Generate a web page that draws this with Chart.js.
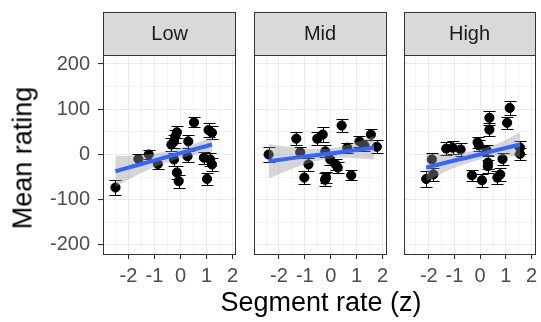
<!DOCTYPE html>
<html>
<head>
<meta charset="utf-8">
<script src="https://cdn.jsdelivr.net/npm/chart.js@4.4.0/dist/chart.umd.min.js"></script>
<style>
  body { margin: 0; background: #fff; font-family: "Liberation Sans", Arial, sans-serif; }
  #wrap { position: relative; width: 541px; height: 322px; overflow: hidden; }
  #wrap canvas { position: absolute; top: 0; }
  .ytitle { position: absolute; left: 23px; top: 158px; transform: translate(-50%, -50%) rotate(-90deg);
            font-size: 27px; white-space: nowrap; color: #000; }
  .xtitle { position: absolute; left: 321px; top: 302px; transform: translate(-50%, -50%);
            font-size: 27px; white-space: nowrap; color: #000; }
</style>
</head>
<body>
<div id="wrap">
  <canvas id="p-low"></canvas>
  <canvas id="p-mid"></canvas>
  <canvas id="p-high"></canvas>
  <div class="ytitle">Mean rating</div>
  <div class="xtitle">Segment rate (z)</div>
</div>
<script>
// ── Données ──────────────────────────────────────────────────────────────────
const xTicks = [-2, -1, 0, 1, 2];
const xMinor = [-2.5, -1.5, -0.5, 0.5, 1.5];
const yTicks = [-200, -100, 0, 100, 200];
const yMinor = [-150, -50, 50, 150];

const lowX   = [-2.5, -1.62, -1.22, -0.87, -0.35, -0.25, -0.2, -0.14, -0.25, -0.14, -0.07, 0.27, 0.3, 0.52, 0.9, 1.08, 1.14, 1.21, 1.21, 1.02];
const lowY   = [-73, -10, 0, -21, 22, 29, 40, 49, -11, -40, -59, -4, 29, 71, -7, 54, -11, 48, -22, -54];
const lowErr = [17, 12, 10, 12, 14, 14, 15, 13, 14, 14, 14, 12, 14, 11, 13, 15, 14, 14, 14, 14];
const lowFitX    = [-2.5, -1.5, -0.5, 0.5, 1.21];
const lowFitY    = [-37, -21, -5, 11, 22];
const lowBandLo  = [-71, -41, -17, -1, 6];
const lowBandHi  = [-3, -1, 7, 23, 38];

const midX   = [-2.4, -1.33, -1.18, -0.86, -1.02, -0.52, -0.31, -0.21, -0.18, -0.22, -0.02, 0.19, 0.27, 0.42, 0.64, 0.79, 1.11, 1.3, 1.55, 1.78];
const midY   = [0, 35, 5, -22, -51, 35, 44, 7, -51, -56, -11, -22, -29, 64, 15, -46, 29, 20, 44, 17];
const midErr = [16, 14, 12, 14, 15, 14, 16, 13, 13, 14, 13, 12, 13, 15, 11, 11, 12, 12, 12, 14];
const midFitX   = [-2.4, -1.5, -0.5, 0.5, 1.67];
const midFitY   = [-15, -8, -1, 6, 15];
const midBandLo = [-53, -32, -14, -7, -11];
const midBandHi = [23, 16, 12, 19, 41];

const highX   = [-2.1, -1.88, -1.82, -1.32, -1.07, -0.76, -0.32, -0.1, 0.07, 0.36, 0.36, 0.3, 0.3, 0.67, 0.78, 0.87, 1.05, 1.15, 1.55, 1.55, -0.05, 0.25];
const highY   = [-54, -11, -44, 13, 15, 11, -46, 27, -57, 81, 55, -18, -26, -51, -44, -10, 70, 103, 15, 1, 20, 10];
const highErr = [18, 14, 14, 14, 14, 14, 12, 12, 14, 16, 14, 14, 14, 14, 14, 13, 14, 16, 14, 14, 12, 12];
const highFitX   = [-2.1, -1.2, -0.3, 0.6, 1.55];
const highFitY   = [-29, -16, -4, 9, 22];
const highBandLo = [-59, -34, -16, -4, -5];
const highBandHi = [1, 2, 8, 22, 49];

// ── Construction d'un panneau ───────────────────────────────────────────────

const TXT = "#4D4D4D";
const FONT = "'Liberation Sans', Arial, sans-serif";

function pts(xs, ys) { return xs.map((x, i) => ({ x, y: ys[i] })); }

function makePanel(id, p) {
  const cv = document.getElementById(id);
  cv.width = p.width; cv.height = 322;
  cv.style.left = p.left + "px";
  cv.style.width = p.width + "px"; cv.style.height = "322px";

  const facet = {
    id: "facet",
    beforeDatasetsDraw(chart) {
      const { ctx, scales: { x, y } } = chart;
      ctx.save();
      ctx.strokeStyle = "#000";
      ctx.lineWidth = 1;
      p.xs.forEach((v, i) => {
        const px = Math.round(x.getPixelForValue(v)) + 0.5;
        const top = Math.round(y.getPixelForValue(p.ys[i] + p.errs[i])) + 0.5;
        const bot = Math.round(y.getPixelForValue(p.ys[i] - p.errs[i])) + 0.5;
        ctx.beginPath();
        ctx.moveTo(px, top); ctx.lineTo(px, bot);
        ctx.moveTo(px - 6, top); ctx.lineTo(px + 6, top);
        ctx.moveTo(px - 6, bot); ctx.lineTo(px + 6, bot);
        ctx.stroke();
      });
      ctx.restore();
    },
    afterDraw(chart) {
      const { ctx, chartArea: a } = chart;
      ctx.save();
      ctx.strokeStyle = "#333333";
      ctx.lineWidth = 1;
      ctx.strokeRect(Math.round(a.left) + 0.5, Math.round(a.top) + 0.5,
                     Math.round(a.right - a.left) - 1, Math.round(a.bottom - a.top));
      // bandeau du facet
      const sTop = 12;
      ctx.fillStyle = "#D9D9D9";
      ctx.fillRect(Math.round(a.left) + 0.5, sTop + 0.5, Math.round(a.right - a.left) - 1, Math.round(a.top) - sTop);
      ctx.strokeRect(Math.round(a.left) + 0.5, sTop + 0.5, Math.round(a.right - a.left) - 1, Math.round(a.top) - sTop);
      ctx.fillStyle = "#1A1A1A";
      ctx.font = "20px " + FONT;
      ctx.textAlign = "center";
      ctx.textBaseline = "middle";
      ctx.fillText(p.label, (a.left + a.right) / 2, (sTop + a.top) / 2 + 1);
      ctx.restore();
    },
  };

  const gridOf = (majors) => ({
    color: "#EBEBEB",
    lineWidth: c => (c.tick && majors.includes(c.tick.value)) ? 1.1 : 0.55,
    tickColor: c => (c.tick && majors.includes(c.tick.value)) ? "#333333" : "rgba(0,0,0,0)",
    tickLength: 5,
  });

  return new Chart(cv.getContext("2d"), {
    type: "scatter",
    data: {
      datasets: [
        {
          type: "line", data: pts(p.fitX, p.fitY),
          borderColor: "#3366FF", borderWidth: 4, pointRadius: 0, fill: false,
          cubicInterpolationMode: "monotone",
        },
        {
          type: "line", data: pts(p.fitX, p.bandHi),
          borderWidth: 0, pointRadius: 0, tension: 0.4,
          fill: "+1", backgroundColor: "rgba(153,153,153,0.4)",
        },
        {
          type: "line", data: pts(p.fitX, p.bandLo),
          borderWidth: 0, pointRadius: 0, tension: 0.4, fill: false,
        },
        {
          data: pts(p.xs, p.ys),
          backgroundColor: "#000", borderColor: "#000", pointRadius: 4.6, pointHoverRadius: 4.6,
        },
      ],
    },
    options: {
      responsive: false,
      animation: false,
      events: [],
      layout: { padding: { left: 0, right: p.padRight, top: 55, bottom: 0 } },
      plugins: { legend: { display: false }, tooltip: { enabled: false } },
      scales: {
        x: {
          type: "linear", min: -2.98, max: 2.15,
          afterBuildTicks: s => { s.ticks = [...xTicks, ...xMinor].sort((a, b) => a - b).map(v => ({ value: v })); },
          afterFit: s => { s.height = 68; s.paddingLeft = 0; s.paddingRight = 0; },
          grid: gridOf(xTicks),
          border: { display: false },
          ticks: {
            autoSkip: false, maxRotation: 0, padding: 5, color: TXT,
            font: { family: FONT, size: 20 },
            callback: v => xTicks.includes(v) ? String(v) : "",
          },
        },
        y: {
          type: "linear", min: -220, max: 220,
          afterBuildTicks: s => { s.ticks = [...yTicks, ...yMinor].sort((a, b) => a - b).map(v => ({ value: v })); },
          afterFit: s => { s.width = p.yAxisW; s.paddingTop = 0; s.paddingBottom = 0; },
          grid: p.showY ? gridOf(yTicks) : { ...gridOf(yTicks), drawTicks: false },
          border: { display: false },
          ticks: {
            display: p.showY, autoSkip: false, padding: 8, color: TXT,
            font: { family: FONT, size: 20 },
            callback: v => yTicks.includes(v) ? String(v) : "",
          },
        },
      },
    },
    plugins: [facet],
  });
}

makePanel("p-low", {
  label: "Low", left: 0, width: 242, yAxisW: 103, padRight: 2, showY: true,
  xs: lowX, ys: lowY, errs: lowErr, fitX: lowFitX, fitY: lowFitY, bandLo: lowBandLo, bandHi: lowBandHi,
});
makePanel("p-mid", {
  label: "Mid", left: 248, width: 144, yAxisW: 4, padRight: 2, showY: false,
  xs: midX, ys: midY, errs: midErr, fitX: midFitX, fitY: midFitY, bandLo: midBandLo, bandHi: midBandHi,
});
makePanel("p-high", {
  label: "High", left: 398, width: 143, yAxisW: 4, padRight: 1, showY: false,
  xs: highX, ys: highY, errs: highErr, fitX: highFitX, fitY: highFitY, bandLo: highBandLo, bandHi: highBandHi,
});
</script>
</body>
</html>
